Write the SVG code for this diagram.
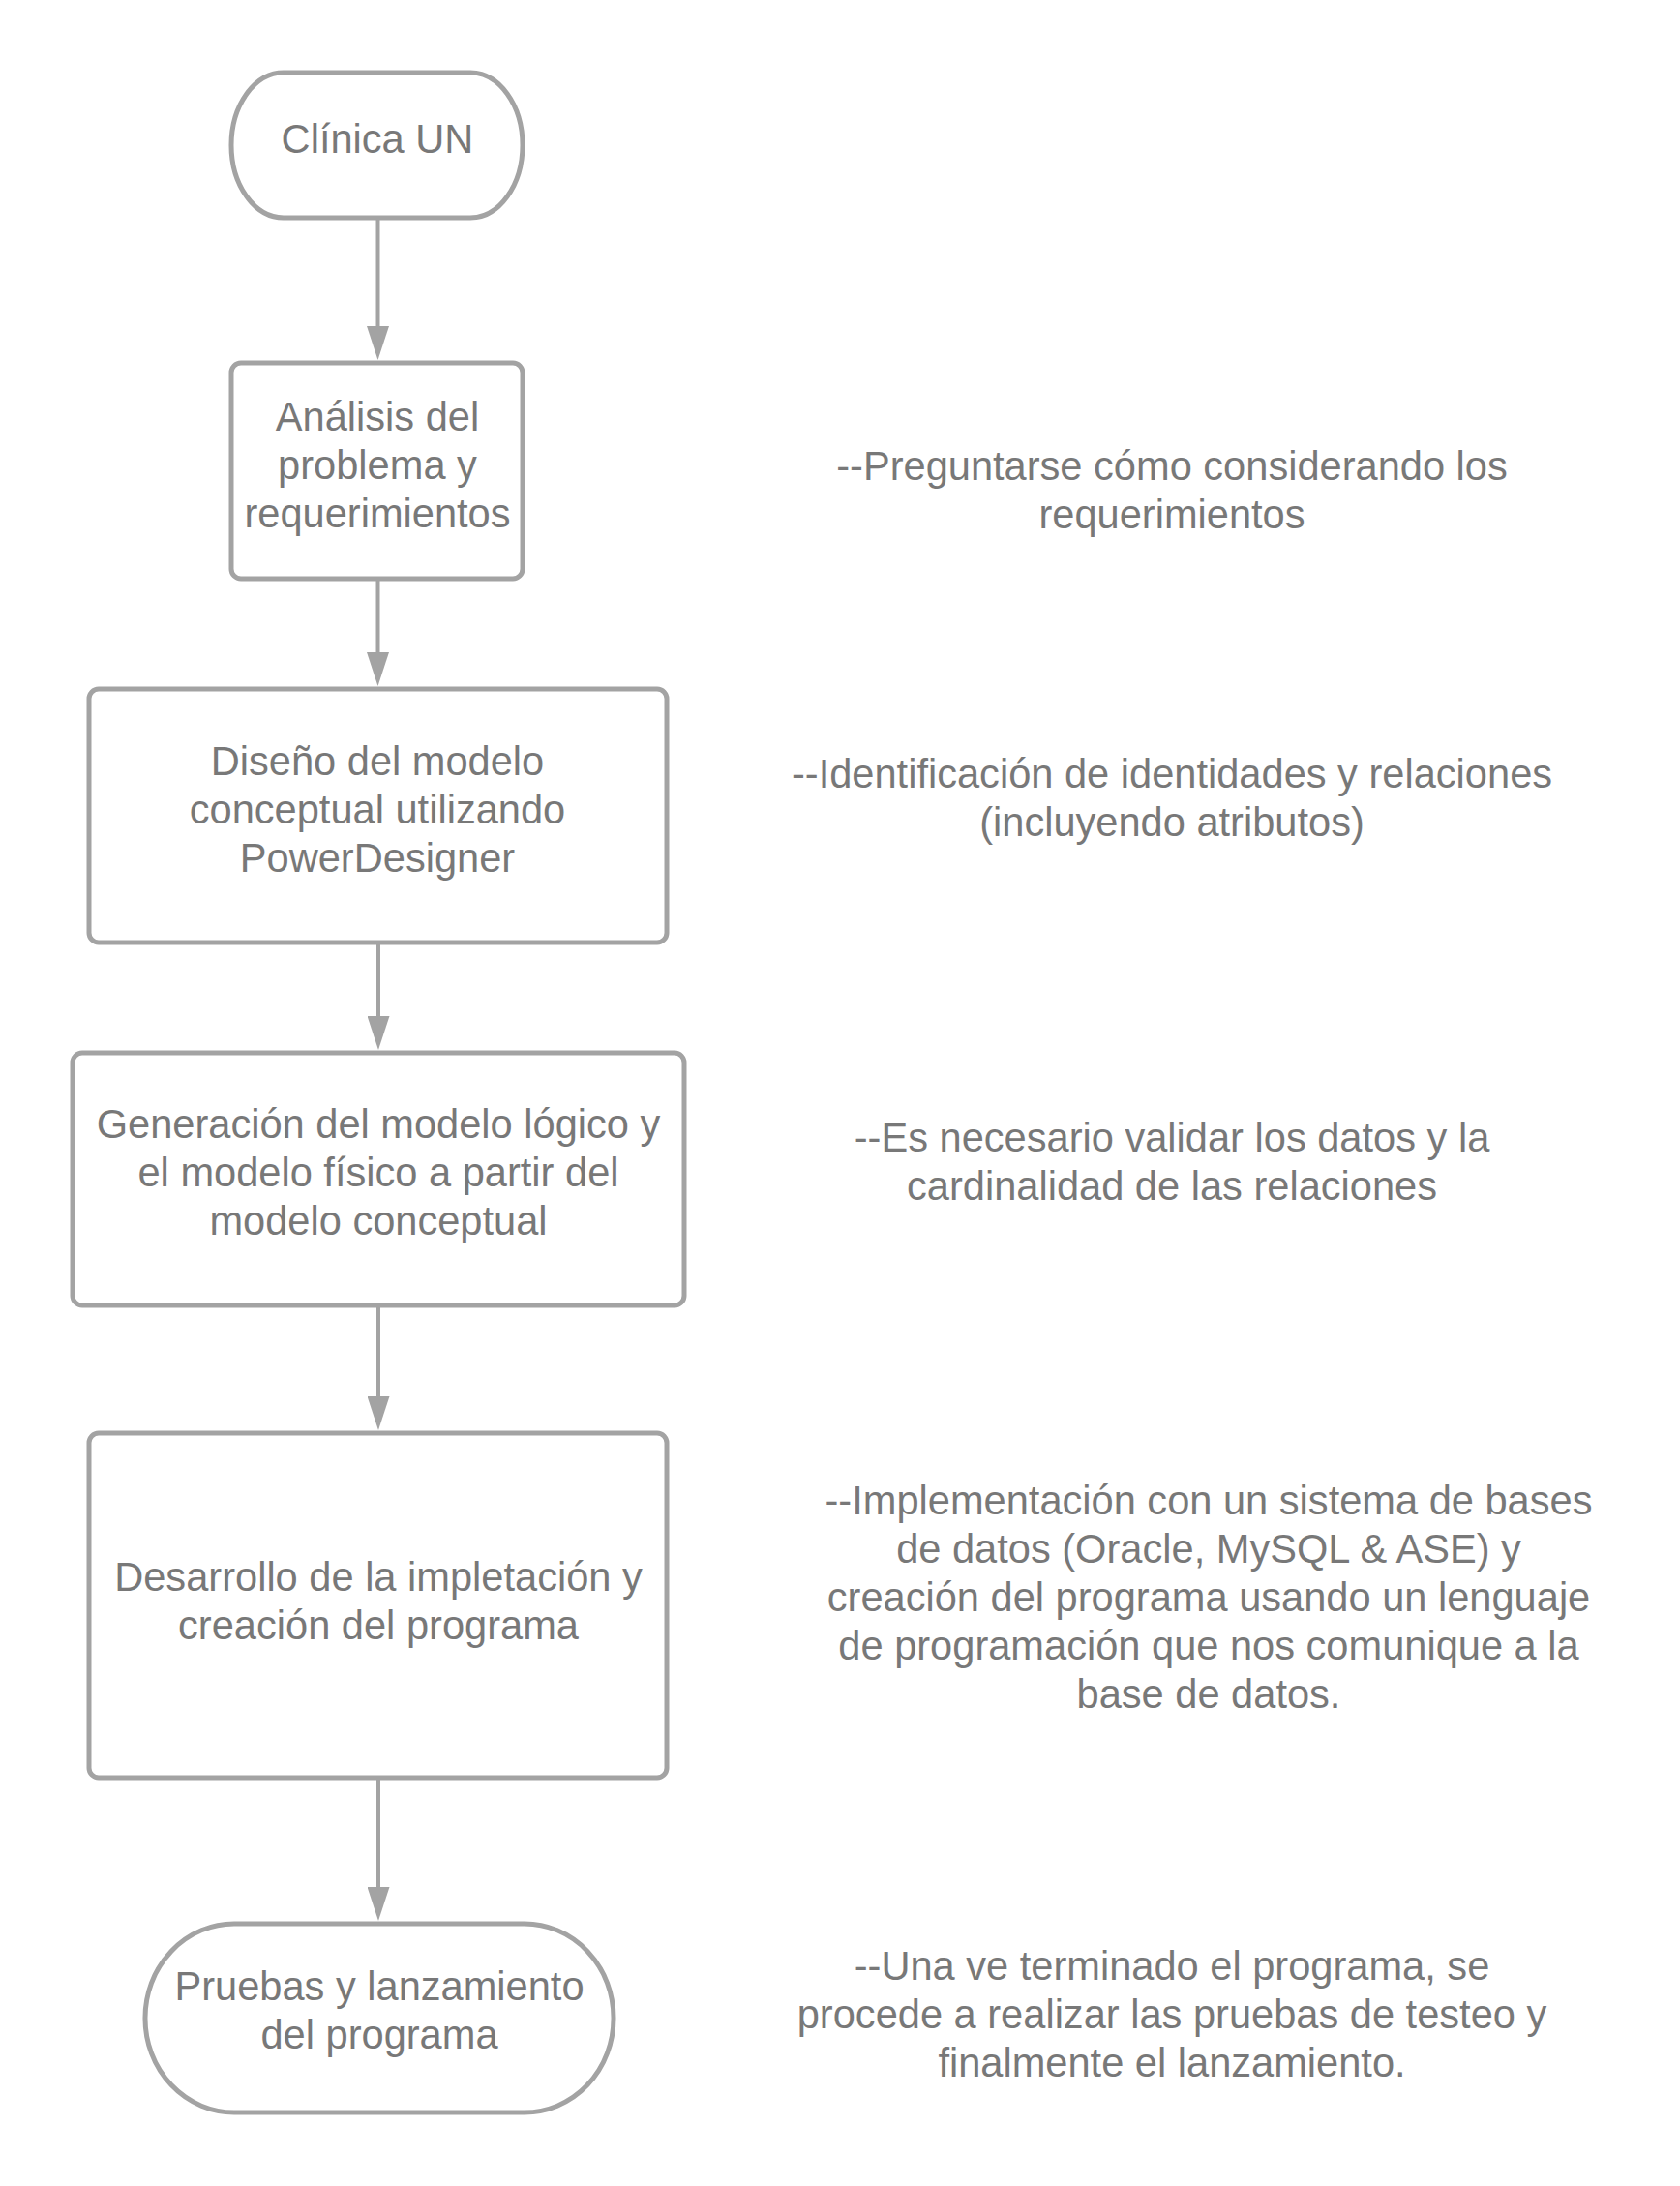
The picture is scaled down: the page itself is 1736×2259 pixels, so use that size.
<svg xmlns="http://www.w3.org/2000/svg" width="1736" height="2259" viewBox="0 0 1736 2259">
<style>
.shape{fill:#ffffff;stroke:#a3a3a3;stroke-width:5}
.conn{stroke:#a3a3a3;stroke-width:4;fill:none}
.t{font-family:"Liberation Sans",Arial,sans-serif;font-size:41.6px;fill:#787878;text-anchor:middle}
</style>
<defs>
<marker id="ah" viewBox="0 0 35 23" refX="0" refY="11.5" markerWidth="35" markerHeight="23" markerUnits="userSpaceOnUse" orient="auto">
<path d="M0,0 L35,11.5 L0,23 z" fill="#a3a3a3"/>
</marker>
</defs>
<rect width="1736" height="2259" fill="#ffffff"/>
<g id="connectors">
<line class="conn" x1="390.5" y1="227" x2="390.5" y2="337" marker-end="url(#ah)"/>
<line class="conn" x1="390.5" y1="600" x2="390.5" y2="674" marker-end="url(#ah)"/>
<line class="conn" x1="391" y1="976" x2="391" y2="1050" marker-end="url(#ah)"/>
<line class="conn" x1="391" y1="1351" x2="391" y2="1443" marker-end="url(#ah)"/>
<line class="conn" x1="391" y1="1839" x2="391" y2="1950" marker-end="url(#ah)"/>
</g>
<g id="n1">
<rect class="shape" x="239" y="75" width="301" height="150" rx="54" ry="75"/>
<text class="t" x="390" y="158">Clínica UN</text>
</g>
<g id="n2">
<rect class="shape" x="239" y="375" width="301" height="223" rx="10"/>
<text class="t" x="390" y="445">Análisis del</text>
<text class="t" x="390" y="495">problema y</text>
<text class="t" x="390" y="545">requerimientos</text>
</g>
<g id="n3">
<rect class="shape" x="92" y="712" width="597" height="262" rx="10"/>
<text class="t" x="390" y="801">Diseño del modelo</text>
<text class="t" x="390" y="851">conceptual utilizando</text>
<text class="t" x="390" y="901">PowerDesigner</text>
</g>
<g id="n4">
<rect class="shape" x="75" y="1088" width="632" height="261" rx="10"/>
<text class="t" x="391" y="1176">Generación del modelo lógico y</text>
<text class="t" x="391" y="1226">el modelo físico a partir del</text>
<text class="t" x="391" y="1276">modelo conceptual</text>
</g>
<g id="n5">
<rect class="shape" x="92" y="1481" width="597" height="356" rx="10"/>
<text class="t" x="391" y="1644">Desarrollo de la impletación y</text>
<text class="t" x="391" y="1694">creación del programa</text>
</g>
<g id="n6">
<rect class="shape" x="150" y="1988" width="484" height="195" rx="92" ry="97"/>
<text class="t" x="392" y="2067">Pruebas y lanzamiento</text>
<text class="t" x="392" y="2117">del programa</text>
</g>
<g id="note1">
<text class="t" x="1211" y="496">--Preguntarse cómo considerando los</text>
<text class="t" x="1211" y="546">requerimientos</text>
</g>
<g id="note2">
<text class="t" x="1211" y="814">--Identificación de identidades y relaciones</text>
<text class="t" x="1211" y="864">(incluyendo atributos)</text>
</g>
<g id="note3">
<text class="t" x="1211" y="1190">--Es necesario validar los datos y la</text>
<text class="t" x="1211" y="1240">cardinalidad de las relaciones</text>
</g>
<g id="note4">
<text class="t" x="1249" y="1565">--Implementación con un sistema de bases</text>
<text class="t" x="1249" y="1615">de datos (Oracle, MySQL &amp; ASE) y</text>
<text class="t" x="1249" y="1665">creación del programa usando un lenguaje</text>
<text class="t" x="1249" y="1715">de programación que nos comunique a la</text>
<text class="t" x="1249" y="1765">base de datos.</text>
</g>
<g id="note5">
<text class="t" x="1211" y="2046">--Una ve terminado el programa, se</text>
<text class="t" x="1211" y="2096">procede a realizar las pruebas de testeo y</text>
<text class="t" x="1211" y="2146">finalmente el lanzamiento.</text>
</g>
</svg>
